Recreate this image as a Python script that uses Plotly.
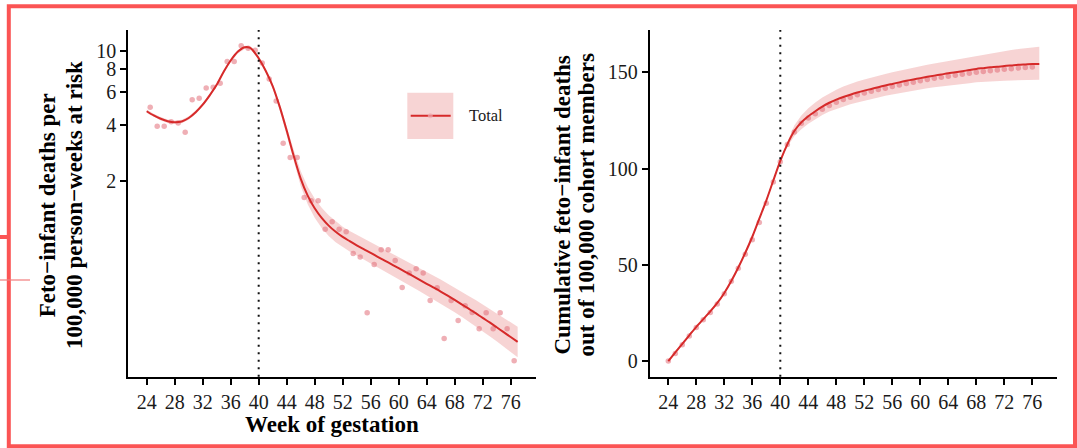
import plotly.graph_objects as go

W, H = 1077, 448
FONT = "Liberation Serif"
RED = "#d62a2a"
BAND = "rgba(214,40,40,0.2)"
DOT = "rgba(225,110,120,0.55)"
INK = "#1a1a1a"

# ---------------- left panel: weekly rate (log scale) ----------------
rate_weeks = [24.5, 25.5, 26.5, 27.5, 28.5, 29.5, 30.5, 31.5, 32.5, 33.5,
              34.5, 35.5, 36.5, 37.5, 38.5, 39.5, 40.5, 41.5, 42.5, 43.5,
              44.5, 45.5, 46.5, 47.5, 48.5, 49.5, 50.5, 51.5, 52.5, 53.5,
              54.5, 55.5, 56.5, 57.5, 58.5, 59.5, 60.5, 61.5, 62.5, 63.5,
              64.5, 65.5, 66.5, 67.5, 68.5, 69.5, 70.5, 71.5, 72.5, 73.5,
              74.5, 75.5, 76.5]
rate_obs = [4.96, 3.92, 3.92, 4.15, 4.08, 3.64, 5.45, 5.55, 6.30, 6.36,
            6.68, 8.73, 8.73, 10.64, 10.30, 10.05, 8.59, 7.04, 5.36, 3.18,
            2.66, 2.66, 1.62, 1.56, 1.56, 1.096, 1.20, 1.096, 1.06, 0.81,
            0.775, 0.389, 0.707, 0.848, 0.848, 0.743, 0.532, 0.636, 0.670, 0.636,
            0.453, 0.530, 0.283, 0.453, 0.353, 0.424, 0.390, 0.319, 0.389, 0.319,
            0.389, 0.319, 0.215]

rate_fit_weeks = [24, 25, 26, 27, 28, 29, 30, 31, 32, 33, 34, 35, 36, 37, 38,
                  38.7, 39.1, 39.4, 40, 41, 42, 43, 44, 45, 46, 47, 48, 49, 50,
                  51, 52, 53, 54, 55, 56, 57, 58, 59, 60, 61, 62, 63, 64, 65,
                  66, 67, 68, 69, 70, 71, 72, 73, 74, 75, 76, 77]
rate_fit = [4.72, 4.48, 4.30, 4.17, 4.12, 4.16, 4.34, 4.66, 5.12, 5.75, 6.55,
            7.70, 8.85, 9.85, 10.42, 10.38, 10.12, 9.78, 9.10, 7.80, 6.45, 5.00,
            3.72, 2.72, 2.05, 1.66, 1.42, 1.26, 1.145, 1.06, 0.995, 0.944, 0.897,
            0.855, 0.817, 0.778, 0.743, 0.708, 0.676, 0.644, 0.614, 0.585, 0.557,
            0.531, 0.506, 0.481, 0.456, 0.432, 0.409, 0.387, 0.365, 0.345, 0.325,
            0.306, 0.288, 0.271]
rate_lo = [4.62, 4.39, 4.21, 4.08, 4.04, 4.07, 4.25, 4.56, 5.01, 5.63, 6.42,
           7.54, 8.67, 9.65, 10.21, 10.17, 9.91, 9.58, 8.91, 7.62, 6.26, 4.80,
           3.52, 2.53, 1.87, 1.49, 1.26, 1.11, 1.006, 0.931, 0.877, 0.832, 0.790,
           0.753, 0.718, 0.682, 0.650, 0.618, 0.589, 0.561, 0.533, 0.507, 0.482,
           0.458, 0.436, 0.413, 0.391, 0.370, 0.349, 0.329, 0.309, 0.291, 0.273,
           0.256, 0.240, 0.224]
rate_hi = [4.82, 4.57, 4.39, 4.26, 4.21, 4.25, 4.43, 4.76, 5.23, 5.87, 6.69,
           7.86, 9.04, 10.06, 10.64, 10.60, 10.33, 9.99, 9.29, 7.98, 6.64, 5.21,
           3.93, 2.93, 2.25, 1.85, 1.60, 1.43, 1.303, 1.206, 1.129, 1.071, 1.018,
           0.970, 0.930, 0.887, 0.849, 0.811, 0.776, 0.739, 0.707, 0.675, 0.644,
           0.615, 0.588, 0.560, 0.532, 0.505, 0.479, 0.456, 0.431, 0.409, 0.387,
           0.366, 0.346, 0.327]

# ---------------- right panel: cumulative deaths ----------------
cum_weeks = [24, 25, 26, 27, 28, 29, 30, 31, 32, 33, 34, 35, 36, 37, 38, 39,
             40, 41, 42, 43, 44, 45, 46, 47, 48, 49, 50, 51, 52, 53, 54, 55,
             56, 57, 58, 59, 60, 61, 62, 63, 64, 65, 66, 67, 68, 69, 70, 71,
             72, 73, 74, 75, 76]
cum_obs = [0, 4.0, 8.5, 13.0, 17.5, 21.5, 25.3, 29.7, 35.0, 41.5, 48.3, 55.5,
           63.0, 72.0, 82.0, 93.0, 103.5, 112.5, 119.0, 123.5, 126.3, 128.5,
           130.8, 132.8, 134.5, 135.9, 137.1, 138.3, 139.3, 140.2, 141.1, 141.8,
           142.6, 143.4, 144.2, 144.9, 145.6, 146.3, 146.9, 147.5, 148.0, 148.5,
           149.0, 149.5, 150.0, 150.4, 150.8, 151.2, 151.6, 151.9, 152.2, 152.5,
           152.8]

cum_fit_weeks = [24, 25, 26, 27, 28, 29, 30, 31, 32, 33, 34, 35, 36, 37, 38,
                 39, 40, 41, 42, 43, 44, 45, 46, 47, 48, 49, 50, 51, 52, 53,
                 54, 55, 56, 57, 58, 59, 60, 61, 62, 63, 64, 65, 66, 67, 68,
                 69, 70, 71, 72, 73, 74, 75, 76, 77]
cum_fit = [0, 4.5, 9.0, 13.4, 17.8, 21.8, 25.8, 30.2, 35.4, 41.6, 48.6, 56.3,
           64.6, 74.0, 83.4, 93.8, 104.0, 112.6, 119.5, 124.0, 127.2, 129.8,
           132.2, 134.2, 135.8, 137.2, 138.4, 139.5, 140.5, 141.4, 142.3, 143.2,
           144.0, 144.8, 145.6, 146.3, 147.0, 147.7, 148.3, 148.9, 149.5, 150.0,
           150.6, 151.2, 151.8, 152.2, 152.6, 152.9, 153.3, 153.6, 153.9, 154.1,
           154.3, 154.4]
cum_lo = [-0.6, 3.9, 8.4, 12.8, 17.2, 21.2, 25.2, 29.6, 34.8, 41.0, 48.0, 55.7,
          64.0, 73.4, 82.8, 93.2, 103.2, 111.4, 116.8, 120.5, 123.3, 125.6,
          127.8, 129.6, 131.0, 132.3, 133.4, 134.4, 135.4, 136.2, 137.0, 137.8,
          138.5, 139.2, 139.9, 140.5, 141.1, 141.7, 142.2, 142.7, 143.2, 143.6,
          144.0, 144.4, 144.8, 145.1, 145.3, 145.5, 145.7, 145.8, 145.9, 146.0,
          146.1, 146.2]
cum_hi = [0.6, 5.1, 9.6, 14.0, 18.4, 22.4, 26.4, 30.8, 36.0, 42.2, 49.2, 56.9,
          65.2, 74.6, 84.0, 94.4, 104.8, 113.8, 122.4, 127.6, 131.4, 134.3,
          137.0, 139.2, 141.0, 142.6, 144.0, 145.2, 146.3, 147.3, 148.3, 149.2,
          150.1, 150.9, 151.7, 152.5, 153.2, 153.9, 154.6, 155.3, 155.9, 156.5,
          157.2, 157.9, 158.6, 159.2, 159.8, 160.4, 161.0, 161.6, 162.1, 162.6,
          163.0, 163.3]

term_week = 40
x_ticks = [24, 28, 32, 36, 40, 44, 48, 52, 56, 60, 64, 68, 72, 76]
rate_ticks = [2, 4, 6, 8, 10]
cum_ticks = [0, 50, 100, 150]


def fx(px):
    return px / W


def fy(py):
    return 1 - py / H


fig = go.Figure()


def add_panel(lo, hi, fw, fit, ow, obs, xa, ya):
    fig.add_trace(go.Scatter(
        x=list(fw) + list(fw)[::-1], y=list(lo) + list(hi)[::-1],
        fill="toself", fillcolor=BAND, line=dict(width=0), mode="lines",
        hoverinfo="skip", showlegend=False, xaxis=xa, yaxis=ya))
    fig.add_trace(go.Scatter(
        x=ow, y=obs, mode="markers",
        marker=dict(size=5.5, color=DOT, line=dict(width=0)),
        showlegend=False, xaxis=xa, yaxis=ya))
    fig.add_trace(go.Scatter(
        x=fw, y=fit, mode="lines",
        line=dict(color=RED, width=2, shape="spline", smoothing=0.8),
        showlegend=False, xaxis=xa, yaxis=ya))


add_panel(rate_lo, rate_hi, rate_fit_weeks, rate_fit,
          rate_weeks, rate_obs, "x", "y")
add_panel(cum_lo, cum_hi, cum_fit_weeks, cum_fit,
          cum_weeks, cum_obs, "x2", "y2")

axis_common = dict(
    showline=True, linecolor="black", linewidth=2, mirror=False,
    ticks="outside", ticklen=6, tickwidth=1.5, tickcolor="black",
    showgrid=False, zeroline=False,
    tickfont=dict(family=FONT, size=20, color=INK),
)

y_dom = [fy(376.7), fy(30)]
x_range = [21.35, 79.55]

fig.update_layout(
    width=W, height=H,
    margin=dict(l=0, r=0, t=0, b=0),
    paper_bgcolor="white", plot_bgcolor="white",
    showlegend=False,
    xaxis=dict(domain=[fx(128.15), fx(535.5)], range=x_range,
               tickvals=x_ticks, anchor="y", **axis_common),
    yaxis=dict(domain=y_dom, type="log", range=[-0.754, 1.111],
               tickvals=rate_ticks, ticktext=[str(t) for t in rate_ticks],
               anchor="x", **axis_common),
    xaxis2=dict(domain=[fx(649.75), fx(1057.15)], range=x_range,
                tickvals=x_ticks, anchor="y2", **axis_common),
    yaxis2=dict(domain=y_dom, range=[-8.1, 172], tickvals=cum_ticks,
                anchor="x2", **axis_common),
)

# dotted reference line at term (week 40) in both panels
for xr, yr in (("x", "y domain"), ("x2", "y2 domain")):
    fig.add_shape(type="line", xref=xr, yref=yr, x0=term_week, x1=term_week,
                  y0=0, y1=1, line=dict(color="#111111", width=2,
                                        dash="2px,5.5px"))

# legend key: shaded square with a line and a point
fig.add_shape(type="rect", xref="paper", yref="paper",
              x0=fx(407.3), x1=fx(453.3), y0=fy(139), y1=fy(92.7),
              fillcolor=BAND, line=dict(width=0))
fig.add_shape(type="line", xref="paper", yref="paper",
              x0=fx(410.7), x1=fx(450.7), y0=fy(115.8), y1=fy(115.8),
              line=dict(color=RED, width=2))
fig.add_shape(type="circle", xref="paper", yref="paper",
              x0=fx(427.8), x1=fx(432.8), y0=fy(118.3), y1=fy(113.3),
              fillcolor="rgba(240,170,175,0.7)", line=dict(width=0))

title_font = dict(family=FONT, size=23, color="black", weight="bold")
annots = [
    dict(text="Feto−infant deaths per", x=fx(47.3), y=fy(205), textangle=-90),
    dict(text="100,000 person−weeks at risk", x=fx(74), y=fy(205), textangle=-90),
    dict(text="Cumulative feto−infant deaths", x=fx(561.5), y=fy(205), textangle=-90),
    dict(text="out of 100,000 cohort members", x=fx(585.5), y=fy(205), textangle=-90),
    dict(text="Week of gestation", x=fx(331.8), y=fy(424), textangle=0),
]
for a in annots:
    fig.add_annotation(xref="paper", yref="paper", showarrow=False,
                       xanchor="center", yanchor="middle", font=title_font, **a)
fig.add_annotation(text="Total", xref="paper", yref="paper", x=fx(467),
                   y=fy(116), xanchor="left", yanchor="middle", showarrow=False,
                   font=dict(family=FONT, size=16.5, color=INK))

# outer frame
RIM = "#fb5454"
fig.add_shape(type="rect", xref="paper", yref="paper",
              x0=fx(8.8), x1=fx(1075), y0=fy(446.3), y1=fy(6.3),
              line=dict(color=RIM, width=4), fillcolor="rgba(0,0,0,0)")
fig.add_shape(type="line", xref="paper", yref="paper",
              x0=fx(0), x1=fx(9), y0=fy(237), y1=fy(237),
              line=dict(color=RIM, width=4))
fig.add_shape(type="line", xref="paper", yref="paper",
              x0=fx(0), x1=fx(30), y0=fy(280), y1=fy(280),
              line=dict(color="#f27c7c", width=1.2))

fig.write_html("out.html")
